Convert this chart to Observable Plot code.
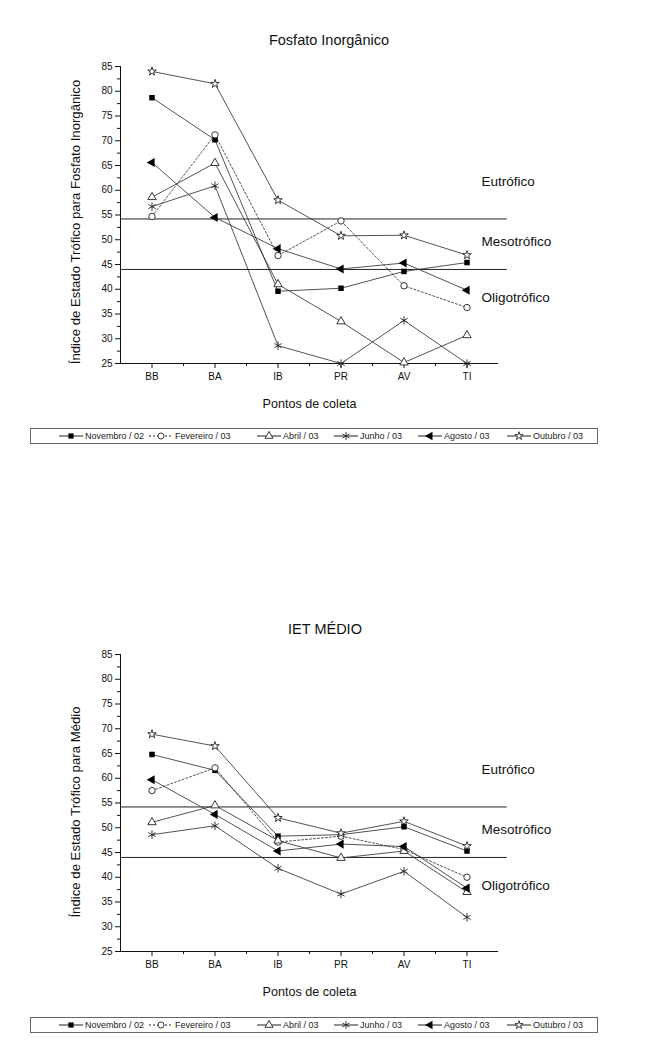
<!DOCTYPE html>
<html><head><meta charset="utf-8">
<script src="https://cdn.jsdelivr.net/npm/d3@7"></script>
<script src="https://cdn.jsdelivr.net/npm/@observablehq/plot@0.6"></script>
<style>
body{margin:0;background:#fff;font-family:"Liberation Sans",Arial,sans-serif;}
#page{position:relative;width:660px;height:1063px;overflow:hidden;background:#fff;}
.title{position:absolute;width:660px;text-align:center;font-size:14.5px;line-height:16px;color:#111;}
.chart{position:absolute;left:0;}
.legend{position:absolute;left:30px;width:568px;height:16px;border:1px solid #666;box-sizing:border-box;}
.item{position:absolute;top:0;height:14px;display:flex;align-items:center;font-size:9px;color:#222;white-space:nowrap;}
.item svg{margin-right:2px;}
</style></head><body><div id="page"></div>
<script>
// ---- data ----
const pontos = ["BB", "BA", "IB", "PR", "AV", "TI"];
const meses = ["Novembro / 02", "Fevereiro / 03", "Abril / 03", "Junho / 03", "Agosto / 03", "Outubro / 03"];
const yTicks = [25, 30, 35, 40, 45, 50, 55, 60, 65, 70, 75, 80, 85];
const limites = [54.2, 44];
const classes = ["Eutrófico", "Mesotrófico", "Oligotrófico"];
const classesY = [61.8, 49.7, 38.3];

// Fosfato Inorgânico
const fosfatoNov02 = [78.7, 70.2, 39.6, 40.2, 43.6, 45.4];
const fosfatoFev03 = [54.7, 71.2, 46.8, 53.8, 40.7, 36.3];
const fosfatoAbr03 = [58.6, 65.5, 41.0, 33.5, 25.2, 30.7];
const fosfatoJun03 = [56.7, 60.9, 28.6, 25.0, 33.7, 25.0];
const fosfatoAgo03 = [65.6, 54.5, 48.2, 44.1, 45.3, 39.8];
const fosfatoOut03 = [84.0, 81.5, 58.0, 50.8, 50.9, 46.9];

// IET Médio
const medioNov02 = [64.8, 61.6, 48.3, 48.6, 50.2, 45.3];
const medioFev03 = [57.5, 62.1, 47.1, 48.3, 45.6, 40.0];
const medioAbr03 = [51.1, 54.5, 47.4, 43.9, 45.3, 37.0];
const medioJun03 = [48.6, 50.4, 41.8, 36.6, 41.2, 31.9];
const medioAgo03 = [59.7, 52.7, 45.3, 46.7, 46.2, 37.8];
const medioOut03 = [68.9, 66.5, 52.0, 48.9, 51.3, 46.3];

const fosfato = [fosfatoNov02, fosfatoFev03, fosfatoAbr03, fosfatoJun03, fosfatoAgo03, fosfatoOut03];
const medio = [medioNov02, medioFev03, medioAbr03, medioJun03, medioAgo03, medioOut03];

// ---- styles ----
const estilos = [
  {symbol: "square", fill: "#000", stroke: "none", r: 3.1, dash: null},
  {symbol: "circle", fill: "#fff", stroke: "#222", r: 3.2, dash: "2,2"},
  {symbol: "triangle", fill: "#fff", stroke: "#222", r: 3.1, dash: null},
  {symbol: "asterisk", fill: "none", stroke: "#222", r: 4.0, dash: null},
  {symbol: "triangle", fill: "#000", stroke: "none", r: 3.4, dash: null, rotate: -90},
  {symbol: "star", fill: "#fff", stroke: "#222", r: 2.7, dash: null}
];

const page = document.getElementById("page");

function makeChart(seriesValues, yLabel, labelDy) {
  const rows = [];
  seriesValues.forEach((vals, k) => vals.forEach((v, i) => rows.push({serie: meses[k], k, i, ponto: pontos[i], v})));
  const marks = [
    Plot.axisY({ticks: yTicks, tickSize: 5, tickPadding: 3, label: null, fontSize: 10}),
    Plot.axisY({ticks: d3.range(27.5, 85, 5), tickSize: 3, text: null, label: null}),
    Plot.axisX({ticks: d3.range(pontos.length), tickFormat: i => pontos[i], tickSize: 5, tickPadding: 4, label: null, fontSize: 10}),
    Plot.axisX({ticks: d3.range(0.5, pontos.length - 1, 1), tickSize: 3, text: null, label: null}),
    Plot.ruleX([-0.5], {y1: 25, y2: 85, stroke: "#111"}),
    Plot.ruleY([25], {stroke: "#111"}),
    Plot.ruleY(limites, {x1: -0.5, x2: 5.64, stroke: "#222", strokeWidth: 1}),
    Plot.text(classes, {x: 5.23, y: (d, j) => classesY[j], text: d => d, textAnchor: "start", fontSize: 13.5, fill: "#111"}),
    Plot.text([yLabel], {frameAnchor: "left", textAnchor: "middle", rotate: -90, dx: -45, dy: labelDy, fontSize: 13.2, fill: "#111"}),
    Plot.text(["Pontos de coleta"], {frameAnchor: "bottom", dy: 44, fontSize: 12.6, fill: "#111"})
  ];
  meses.forEach((m, k) => {
    const e = estilos[k];
    marks.push(Plot.line(rows.filter(d => d.k === k), {x: "i", y: "v", stroke: "#333", strokeWidth: 0.85, strokeDasharray: e.dash}));
  });
  meses.forEach((m, k) => {
    const e = estilos[k];
    const opts = {x: "i", y: "v", symbol: e.symbol, r: e.r, fill: e.fill, stroke: e.stroke, strokeWidth: 0.9};
    if (e.rotate) opts.rotate = e.rotate;
    marks.push(Plot.dot(rows.filter(d => d.k === k), opts));
  });
  return Plot.plot({
    width: 660, height: 370,
    marginTop: 16, marginBottom: 57, marginLeft: 120, marginRight: 162,
    style: {fontFamily: "'Liberation Sans', Arial, sans-serif", fontSize: "10px", color: "#111", background: "transparent", overflow: "visible"},
    x: {type: "linear", domain: [-0.5, 5.5]},
    y: {domain: [25, 85]},
    marks
  });
}

function addTitle(text, top, left) {
  const d = document.createElement("div");
  d.className = "title"; d.textContent = text; d.style.top = top + "px"; d.style.left = left + "px";
  page.appendChild(d);
}

function addChart(el, top) {
  const w = document.createElement("div");
  w.className = "chart"; w.style.top = top + "px";
  w.appendChild(el);
  page.appendChild(w);
}

const legendLefts = [59, 149, 257, 334, 418, 507];
const symMap = {square: d3.symbolSquare, circle: d3.symbolCircle, triangle: d3.symbolTriangle, asterisk: d3.symbolAsterisk, star: d3.symbolStar};
function addLegend(top) {
  const box = document.createElement("div");
  box.className = "legend"; box.style.top = top + "px";
  page.appendChild(box);
  meses.forEach((m, k) => {
    const e = estilos[k];
    const item = document.createElement("div");
    item.className = "item"; item.style.left = (legendLefts[k] - 31) + "px";
    const svg = d3.create("svg").attr("width", 24).attr("height", 12);
    svg.append("line").attr("x1", 0).attr("x2", 24).attr("y1", 6).attr("y2", 6)
      .attr("stroke", "#222").attr("stroke-width", 1).attr("stroke-dasharray", e.dash ? "2,2" : null);
    const rr = e.r * 0.95;
    svg.append("path").attr("d", d3.symbol(symMap[e.symbol], rr * rr * Math.PI)())
      .attr("transform", `translate(12,6) rotate(${e.rotate || 0})`)
      .attr("fill", e.fill).attr("stroke", e.stroke).attr("stroke-width", 0.9);
    item.appendChild(svg.node());
    const t = document.createElement("span"); t.textContent = m;
    item.appendChild(t);
    box.appendChild(item);
  });
}

addTitle("Fosfato Inorgânico", 32, -1);
addChart(makeChart(fosfato, "Índice de Estado Trófico para Fosfato Inorgânico", 7), 50);
addLegend(428);

addTitle("IET MÉDIO", 621, -5);
addChart(makeChart(medio, "Índice de Estado Trófico para Médio", 9), 638);
addLegend(1017);
</script></body></html>
